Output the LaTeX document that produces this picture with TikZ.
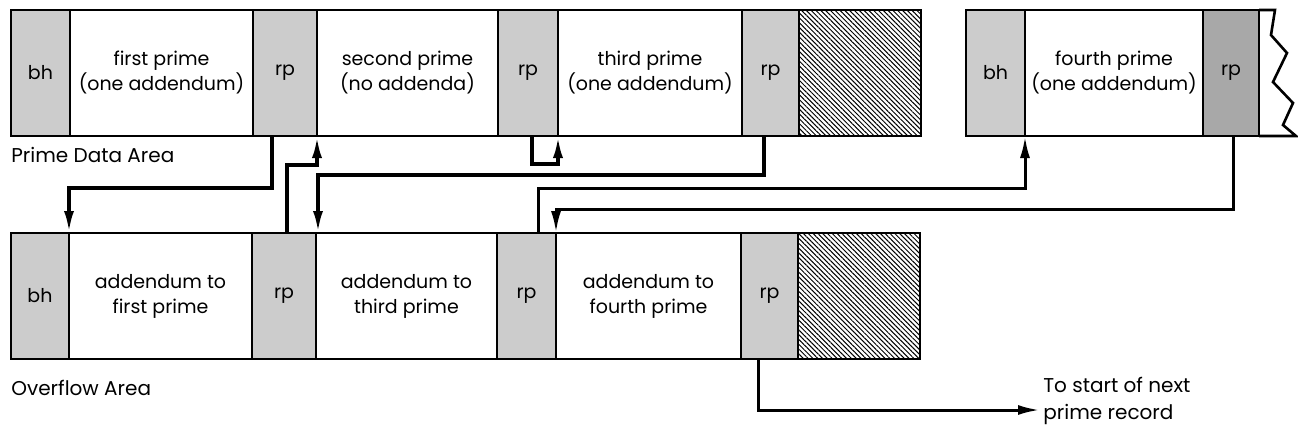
\documentclass[tikz,border=0pt]{standalone}
\usepackage{fontspec}
\setmainfont{Poppins}
\usepackage{tikz}
\usetikzlibrary{positioning,arrows.meta,patterns.meta}

\begin{document}
\begin{tikzpicture}[x=0.5pt,y=-0.5pt,
  field/.style={draw, line width=1.3pt, inner sep=0pt, outer sep=0pt,
    minimum height=63pt, align=center,
    font=\fontsize{9.5}{12.5}\selectfont},
  ctrl/.style={field, fill=ctrlGray},
  free/.style={field, pattern={Lines[angle=-45,distance=1.7pt,line width=0.5pt]}},
  link/.style={line width=1.8pt, -{Latex[length=11pt,width=5pt]}},
  area/.style={anchor=west, inner sep=0pt, font=\fontsize{10}{12}\selectfont}]

% Colori
\definecolor{ctrlGray}{gray}{0.8}
\definecolor{darkGray}{gray}{0.66}

\useasboundingbox (0,0) rectangle (1298,435);

% Prime data area
\node[ctrl, anchor=north west, minimum width=29.5pt] (pBh1) at (11,10) {bh};
\node[field, right=0pt of pBh1, minimum width=91.5pt] (pFirst) {first prime\\(one addendum)};
\node[ctrl, right=0pt of pFirst, minimum width=32pt] (pRp1) {rp};
\node[field, right=0pt of pRp1, minimum width=90.5pt] (pSecond) {second prime\\(no addenda)};
\node[ctrl, right=0pt of pSecond, minimum width=30pt] (pRp2) {rp};
\node[field, right=0pt of pRp2, minimum width=92pt] (pThird) {third prime\\(one addendum)};
\node[ctrl, right=0pt of pThird, minimum width=28.5pt] (pRp3) {rp};
\node[free, right=0pt of pRp3, minimum width=61pt] (pFree) {};

\node[ctrl, anchor=north west, minimum width=29.5pt] (pBh4) at (966,10) {bh};
\node[field, right=0pt of pBh4, minimum width=89pt] (pFourth) {fourth prime\\(one addendum)};
\node[ctrl, right=0pt of pFourth, minimum width=28pt, fill=darkGray] (pRp4) {rp};

% Bordo spezzato
\draw[line width=1.3pt, line join=miter] (pRp4.north east) -- (1275,10) -- (1271,35) -- (1287,53)
  -- (1273,82) -- (1293,103) -- (1283,125) -- (1296,136) -- (pRp4.south east);

\node[area] (pLabel) at (11,155) {Prime Data Area};

% Overflow area
\node[ctrl, anchor=north west, minimum width=29pt] (oBh) at (11,233) {bh};
\node[field, right=0pt of oBh, minimum width=91.5pt] (oFirst) {addendum to\\first prime};
\node[ctrl, right=0pt of oFirst, minimum width=32pt] (oRp1) {rp};
\node[field, right=0pt of oRp1, minimum width=90.5pt] (oThird) {addendum to\\third prime};
\node[ctrl, right=0pt of oThird, minimum width=29.5pt] (oRp2) {rp};
\node[field, right=0pt of oRp2, minimum width=92.5pt] (oFourth) {addendum to\\fourth prime};
\node[ctrl, right=0pt of oFourth, minimum width=28.5pt] (oRp3) {rp};
\node[free, right=0pt of oRp3, minimum width=61pt] (oFree) {};

\node[area] (oLabel) at (11,388) {Overflow Area};

% Puntatori
\draw[link] ([xshift=-6.5pt]pRp1.south) -- ++(0,52) -| (oBh.north east);
\draw[link] ([xshift=1.5pt]oRp1.north) -- ++(0,-68) -| (pRp1.south east);
\draw[link] ([xshift=-3.25pt]pRp3.south) -- ++(0,39) -| ([xshift=1pt]oRp1.north east);
\draw[link] ([xshift=2pt]pRp2.south) -- ++(0,28) -| (pRp2.south east);
\draw[link, line width=1.5pt] ([xshift=5.75pt]oRp2.north) -- ++(0,-45) -| (pBh4.south east);
\draw[link, line width=1.5pt] ([xshift=1pt]pRp4.south) -- ++(0,73) -| (oRp2.north east);

% Record successivo
\node[area, align=left, font=\fontsize{10}{13.5}\selectfont] (next) at (1043,401) {To start of next\\prime record};
\coordinate (nextTip) at (1040,410);
\draw[link, line width=1.5pt] ([xshift=-5.75pt]oRp3.south) |- (nextTip);

\end{tikzpicture}
\end{document}
